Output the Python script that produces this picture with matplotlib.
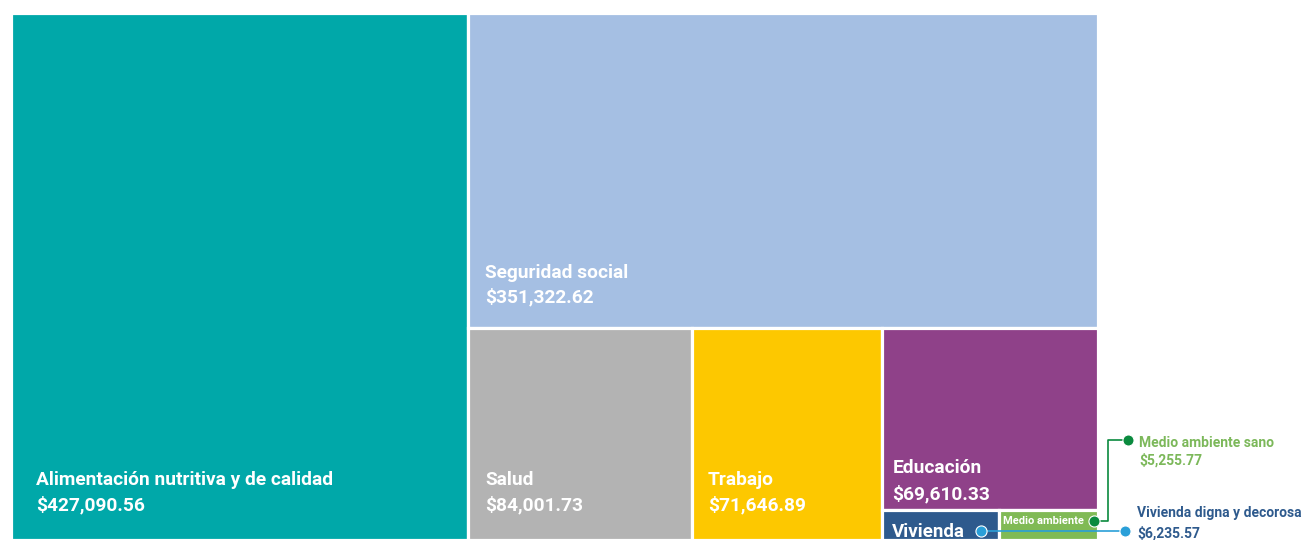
import matplotlib.pyplot as plt
from matplotlib.patches import Rectangle

# data
categories = ["Alimentación nutritiva y de calidad", "Seguridad social", "Salud",
              "Trabajo", "Educación", "Vivienda digna y decorosa", "Medio ambiente sano"]
values = [427090.56, 351322.62, 84001.73, 71646.89, 69610.33, 6235.57, 5255.77]
box_labels = ["Alimentación nutritiva y de calidad", "Seguridad social", "Salud",
              "Trabajo", "Educación", "Vivienda", "Medio ambiente"]
colors = ["#00A8A9", "#A5BFE3", "#B3B3B3", "#FDC800", "#8F4189", "#2E5A8D", "#80BA55"]

plt.rcParams['font.family'] = ['Roboto', 'DejaVu Sans']

W, H = 1307, 540
AX_L, AX_T, AX_W, AX_H = 11, 13, 1087, 527


def layout(vals):
    # hand-ordered slice layout, sizes proportional to the values
    a, s, sa, tr, ed, vi, me = vals
    total = sum(vals)
    rects = []
    xa = a / total
    rects.append((0, 0, xa, 1))
    hs = s / (total - a)
    rects.append((xa, 0, 1 - xa, hs))
    row = sa + tr + ed + vi + me
    x = xa
    for v in (sa, tr):
        w = (1 - xa) * v / row
        rects.append((x, hs, w, 1 - hs))
        x += w
    wg = 1 - x
    he = (1 - hs) * ed / (ed + vi + me)
    rects.append((x, hs, wg, he))
    wv = wg * vi / (vi + me)
    rects.append((x, hs + he, wv, 1 - hs - he))
    rects.append((x + wv, hs + he, wg - wv, 1 - hs - he))
    return rects


def px(dx, dy):
    # pixel offset -> data offset
    return dx / AX_W, dy / AX_H


fig = plt.figure(figsize=(W / 100, H / 100), dpi=100)
ax = fig.add_axes([AX_L / W, 1 - (AX_T + AX_H) / H, AX_W / W, AX_H / H])
ax.set_xlim(0, 1)
ax.set_ylim(1, 0)
ax.axis('off')

rects = layout(values)
for (x, y, w, h), c in zip(rects, colors):
    ax.add_patch(Rectangle((x, y), w, h, facecolor=c, edgecolor='white', linewidth=2.3))

# label offsets from bottom-left corner of each box, pixels (name, value)
label_pos = [((25, 55), (25, 30)), ((17, 50), (17, 25)), ((17, 55), (17, 30)),
             ((16, 55), (16, 30)), ((10, 37), (10, 11))]
for i, (npos, vpos) in enumerate(label_pos):
    x, y, w, h = rects[i]
    ax.annotate(box_labels[i], (x, y + h), xytext=(npos[0] * 0.72, npos[1] * 0.72),
                textcoords='offset points', color='white', fontsize=13.8,
                fontweight='bold', va='baseline', ha='left')
    ax.annotate(f"${values[i]:,.2f}", (x, y + h), xytext=(vpos[0] * 0.72, vpos[1] * 0.72),
                textcoords='offset points', color='white', fontsize=13.8,
                fontweight='bold', va='baseline', ha='left')

# small boxes
x, y, w, h = rects[5]
ax.annotate(box_labels[5], (x, y + h), xytext=(10 * 0.72, 3 * 0.72), textcoords='offset points',
            color='white', fontsize=13.5, fontweight='bold', va='baseline', ha='left')
x, y, w, h = rects[6]
ax.annotate(box_labels[6], (x, y + h), xytext=(4 * 0.72, 16 * 0.72), textcoords='offset points',
            color='white', fontsize=8, fontweight='bold', va='baseline', ha='left')

# callouts
viv_text, viv_line = "#2E5A8D", "#2A9FD8"
med_text, med_line = "#7CB85A", "#0A8A3E"

x, y, w, h = rects[5]
dx, dy = px(-18, -9)
sx, sy = x + w + dx, y + h + dy
ex = 1 + px(27, 0)[0]
ax.plot([sx, ex], [sy, sy], color=viv_line, lw=1.2, clip_on=False)
ax.plot([sx, ex], [sy, sy], 'o', color=viv_line, ms=8, mec='white', mew=0.8, clip_on=False)
tx = 1 + px(39, 0)[0]
ax.text(tx, sy + px(0, -14)[1], categories[5], color=viv_text, fontsize=10,
        fontweight='bold', va='baseline', ha='left', clip_on=False)
ax.text(tx, sy + px(0, 7)[1], f"${values[5]:,.2f}", color=viv_text, fontsize=10,
        fontweight='bold', va='baseline', ha='left', clip_on=False)

x, y, w, h = rects[6]
dx, dy = px(-4, -19)
sx, sy = x + w + dx, y + h + dy
mx = 1 + px(10, 0)[0]
ex = 1 + px(30, 0)[0]
ty = sy + px(0, -81)[1]
ax.plot([sx, mx, mx, ex], [sy, sy, ty, ty], color=med_line, lw=1.2, clip_on=False)
ax.plot([sx, ex], [sy, ty], 'o', color=med_line, ms=8, mec='white', mew=0.8, clip_on=False)
tx = 1 + px(41, 0)[0]
ax.text(tx, ty + px(0, 7)[1], categories[6], color=med_text, fontsize=10,
        fontweight='bold', va='baseline', ha='left', clip_on=False)
ax.text(tx, ty + px(0, 25)[1], f"${values[6]:,.2f}", color=med_text, fontsize=10,
        fontweight='bold', va='baseline', ha='left', clip_on=False)

fig.savefig('out.png', dpi=100)
